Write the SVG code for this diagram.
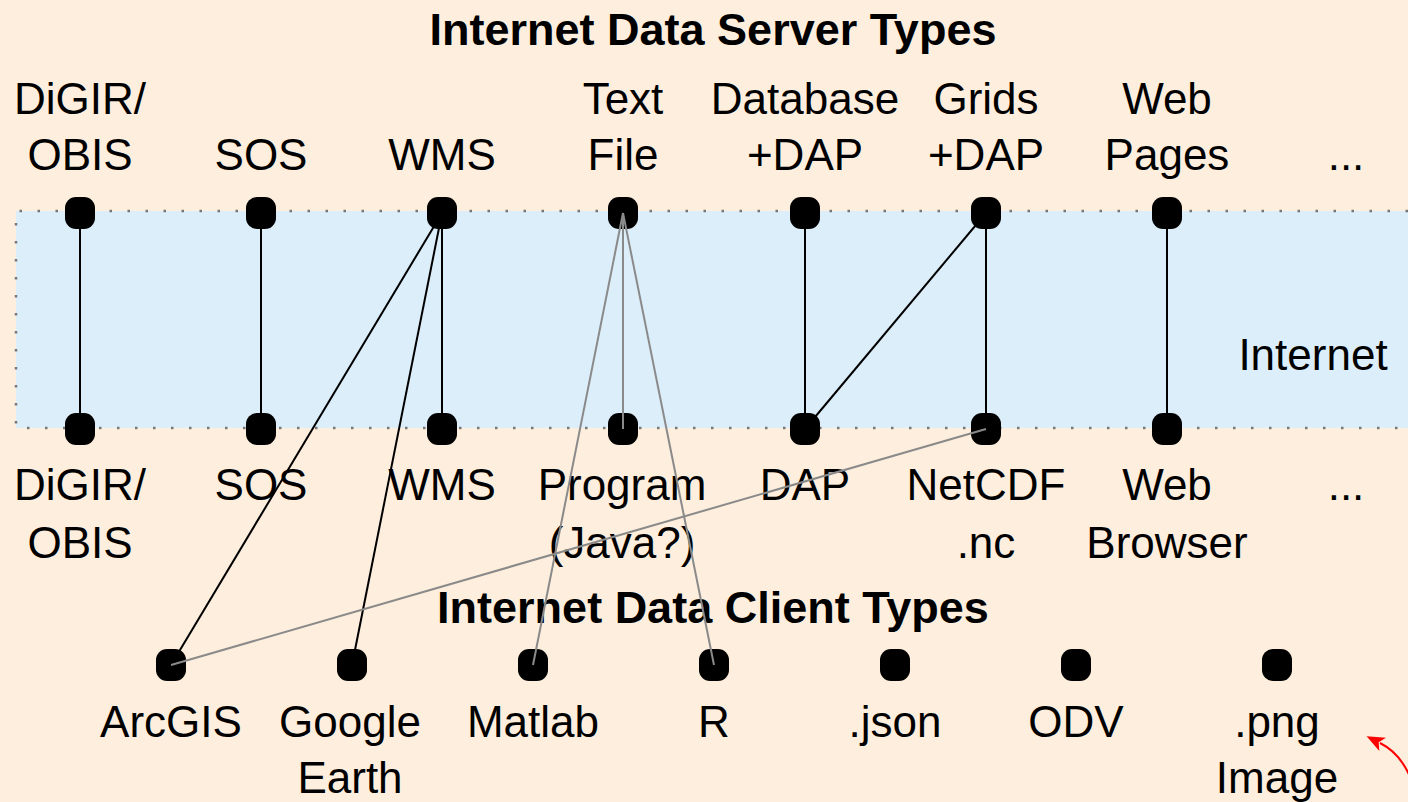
<svg xmlns="http://www.w3.org/2000/svg" width="1408" height="802" viewBox="0 0 1408 802">
<defs>
<style>
.t{font-family:"Liberation Sans",Arial,sans-serif;font-size:44px;fill:#000;text-anchor:middle}
.h{font-family:"Liberation Sans",Arial,sans-serif;font-size:45px;font-weight:bold;fill:#000;text-anchor:middle}
.n{fill:#000}
.k{stroke:#000;stroke-width:2;fill:none}
.g{stroke:#8a8a8a;stroke-width:2;fill:none}
.d{stroke:#777;stroke-width:2.5;stroke-dasharray:2.5 15.5;fill:none}
</style>
<marker id="ah" viewBox="0 0 12 10" refX="2" refY="5" markerWidth="9" markerHeight="8" orient="auto-start-reverse">
<path d="M0,0 L12,5 L0,10 L3,5 z" fill="#ff0000"/>
</marker>
</defs>
<rect width="1408" height="802" fill="#FEEEDE"/>
<g id="internet-band">
<rect x="16" y="211" width="1400" height="217" fill="#DCEEFA"/>
<path class="d" d="M1408,211 H16 V428 H1408"/>
<text class="t" x="1313" y="370">Internet</text>
</g>
<text class="h" x="713" y="45">Internet Data Server Types</text>
<text class="h" x="713" y="623">Internet Data Client Types</text>

<g id="server-nodes">
<g id="s-digir"><text class="t" x="80" y="114">DiGIR/</text><text class="t" x="80" y="170">OBIS</text><rect class="n" x="65" y="197" width="30" height="32" rx="11"/></g>
<g id="s-sos"><text class="t" x="261" y="170">SOS</text><rect class="n" x="246" y="197" width="30" height="32" rx="11"/></g>
<g id="s-wms"><text class="t" x="442" y="170">WMS</text><rect class="n" x="427" y="197" width="30" height="32" rx="11"/></g>
<g id="s-text"><text class="t" x="623" y="114">Text</text><text class="t" x="623" y="170">File</text><rect class="n" x="608" y="197" width="30" height="32" rx="11"/></g>
<g id="s-db"><text class="t" x="805" y="114">Database</text><text class="t" x="805" y="170">+DAP</text><rect class="n" x="790" y="197" width="30" height="32" rx="11"/></g>
<g id="s-grids"><text class="t" x="986" y="114">Grids</text><text class="t" x="986" y="170">+DAP</text><rect class="n" x="971" y="197" width="30" height="32" rx="11"/></g>
<g id="s-web"><text class="t" x="1167" y="114">Web</text><text class="t" x="1167" y="170">Pages</text><rect class="n" x="1152" y="197" width="30" height="32" rx="11"/></g>
<g id="s-more"><text class="t" x="1346" y="170">...</text></g>
</g>

<g id="bridge-nodes">
<g id="b-digir"><text class="t" x="80" y="500">DiGIR/</text><text class="t" x="80" y="558">OBIS</text><rect class="n" x="65" y="413" width="30" height="32" rx="11"/></g>
<g id="b-sos"><text class="t" x="261" y="500">SOS</text><rect class="n" x="246" y="413" width="30" height="32" rx="11"/></g>
<g id="b-wms"><text class="t" x="442" y="500">WMS</text><rect class="n" x="427" y="413" width="30" height="32" rx="11"/></g>
<g id="b-program"><text class="t" x="622" y="500">Program</text><text class="t" x="622" y="558">(Java?)</text><rect class="n" x="608" y="413" width="30" height="32" rx="11"/></g>
<g id="b-dap"><text class="t" x="805" y="500">DAP</text><rect class="n" x="790" y="413" width="30" height="32" rx="11"/></g>
<g id="b-netcdf"><text class="t" x="986" y="500">NetCDF</text><text class="t" x="986" y="558">.nc</text><rect class="n" x="971" y="413" width="30" height="32" rx="11"/></g>
<g id="b-web"><text class="t" x="1167" y="500">Web</text><text class="t" x="1167" y="558">Browser</text><rect class="n" x="1152" y="413" width="30" height="32" rx="11"/></g>
<g id="b-more"><text class="t" x="1346" y="500">...</text></g>
</g>

<g id="client-nodes">
<g id="c-arcgis"><text class="t" x="171" y="737">ArcGIS</text><rect class="n" x="156" y="649" width="30" height="32" rx="11"/></g>
<g id="c-google"><text class="t" x="350" y="737">Google</text><text class="t" x="350" y="793">Earth</text><rect class="n" x="337" y="649" width="30" height="32" rx="11"/></g>
<g id="c-matlab"><text class="t" x="533" y="737">Matlab</text><rect class="n" x="518" y="649" width="30" height="32" rx="11"/></g>
<g id="c-r"><text class="t" x="714" y="737">R</text><rect class="n" x="699" y="649" width="30" height="32" rx="11"/></g>
<g id="c-json"><text class="t" x="895" y="737">.json</text><rect class="n" x="880" y="649" width="30" height="32" rx="11"/></g>
<g id="c-odv"><text class="t" x="1076" y="737">ODV</text><rect class="n" x="1061" y="649" width="30" height="32" rx="11"/></g>
<g id="c-png"><text class="t" x="1277" y="737">.png</text><text class="t" x="1277" y="793">Image</text><rect class="n" x="1262" y="649" width="30" height="32" rx="11"/></g>
</g>

<g id="connectors">
<line class="k" x1="80" y1="213" x2="80" y2="429"/>
<line class="k" x1="261" y1="213" x2="261" y2="429"/>
<line class="k" x1="442" y1="213" x2="442" y2="429"/>
<line class="k" x1="442" y1="213" x2="171" y2="665"/>
<line class="k" x1="442" y1="213" x2="352" y2="665"/>
<line class="g" x1="623" y1="213" x2="623" y2="429"/>
<line class="g" x1="623" y1="213" x2="533" y2="665"/>
<line class="g" x1="623" y1="213" x2="714" y2="665"/>
<line class="k" x1="805" y1="213" x2="805" y2="429"/>
<line class="k" x1="805" y1="429" x2="986" y2="213"/>
<line class="k" x1="986" y1="213" x2="986" y2="429"/>
<line class="k" x1="1167" y1="213" x2="1167" y2="429"/>
<line class="g" x1="986" y1="429" x2="171" y2="665"/>
</g>
<path id="red-arrow" d="M1412,782 Q1402,754 1380,743" stroke="#ff0000" stroke-width="2" fill="none" marker-end="url(#ah)"/>
</svg>
